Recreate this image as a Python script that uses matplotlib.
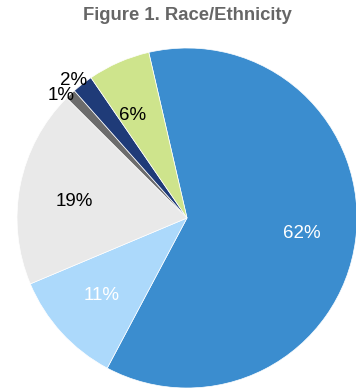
import matplotlib
matplotlib.use("Agg")
import matplotlib.pyplot as plt

plt.rcParams["font.family"] = ["Liberation Sans", "DejaVu Sans"]

# Race/Ethnicity shares, clockwise from the top
groups = ["Group A", "Group B", "Group C", "Group D", "Group E", "Group F"]
shares = [62, 11, 19, 1, 2, 6]
colors = ["#3b8dcf", "#acd9fb", "#e9e9e9", "#6c6c6c", "#1f3b78", "#cee48c"]
label_colors = ["white", "white", "black", "black", "black", "black"]

fig = plt.figure(figsize=(3.56, 3.89), dpi=100)
ax = fig.add_axes([17 / 356, 1 / 389, 340 / 356, 340 / 389])

wedges, texts, autotexts = ax.pie(
    shares,
    colors=colors,
    startangle=103,
    counterclock=False,
    autopct=lambda p: "%d%%" % round(p * sum(shares) / 100),
    pctdistance=0.68,
    wedgeprops=dict(edgecolor="white", linewidth=0.5),
    textprops=dict(fontsize=13.5),
)
for t, c in zip(autotexts, label_colors):
    t.set_color(c)

# small slices get their labels pushed outward
autotexts[3].set_position((-0.74, 0.72))
autotexts[4].set_position((-0.67, 0.81))
autotexts[2].set_position((-0.66, 0.10))
autotexts[5].set_position((-0.32, 0.60))

ax.set_aspect("equal")
ax.set_xlim(-1, 1)
ax.set_ylim(-1, 1)

fig.text(0.525, 0.961, "Figure 1. Race/Ethnicity", ha="center", va="center",
         fontsize=13.3, fontweight="bold", color="#666666")

fig.savefig("out.png", dpi=100)
